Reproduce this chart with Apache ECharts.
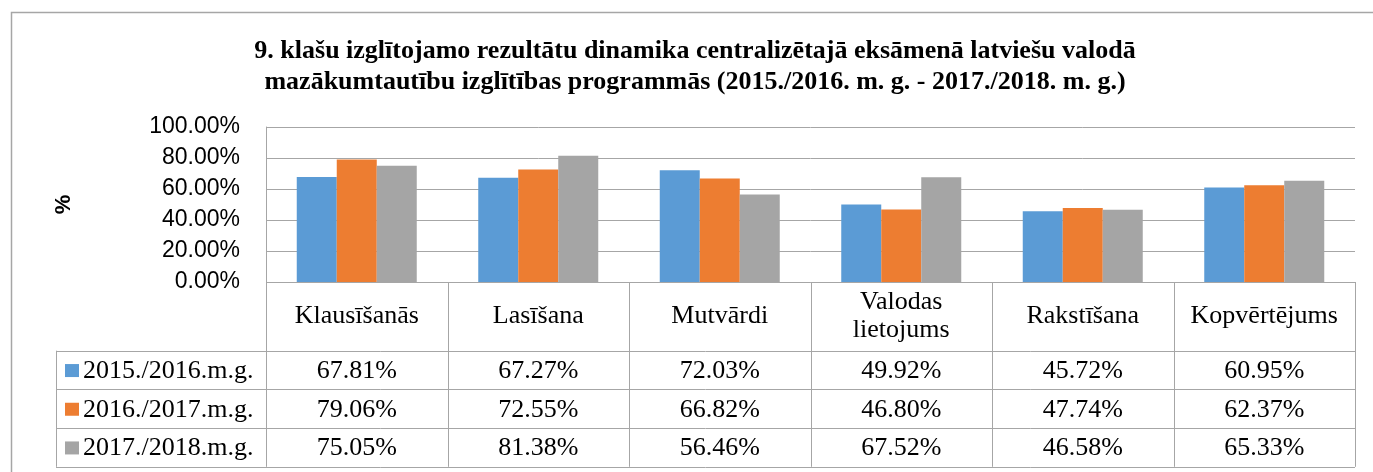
<!DOCTYPE html>
<html>
<head>
<meta charset="utf-8">
<script src="https://cdn.jsdelivr.net/npm/echarts@6/dist/echarts.min.js"></script>
<style>
  html, body { margin: 0; padding: 0; background: #fff; }
  #chart { width: 1373px; height: 472px; }
</style>
</head>
<body>
<div id="chart"></div>
<script>
// dati
var categories = ['Klausīšanās', 'Lasīšana', 'Mutvārdi', 'Valodas\nlietojums', 'Rakstīšana', 'Kopvērtējums']
var seriesNames = ['2015./2016.m.g.', '2016./2017.m.g.', '2017./2018.m.g.']
var y2016 = [67.81, 67.27, 72.03, 49.92, 45.72, 60.95]
var y2017 = [79.06, 72.55, 66.82, 46.80, 47.74, 62.37]
var y2018 = [75.05, 81.38, 56.46, 67.52, 46.58, 65.33]
var yTicks = [0, 20, 40, 60, 80, 100]

var colors = ['#5B9BD5', '#ED7D31', '#A5A5A5']
var lineColor = '#A6A6A6'

// izkārtojums
var gLeft = 266, gTop = 127, gWidth = 1089, gHeight = 155
var rowH = 38.7, catRowH = 68.7, legLeft = 56
var colW = gWidth / categories.length
var tableFont = '26px "Liberation Serif"'

var allData = [y2016, y2017, y2018]

function buildTable () {
  var els = []
  var tableTop = gTop + gHeight
  var rowsTop = tableTop + catRowH
  var bottom = rowsTop + rowH * 3
  var lineStyle = { stroke: lineColor, lineWidth: 1 }

  // horizontālās līnijas
  els.push({ type: 'line', shape: { x1: gLeft, y1: tableTop + 0.5, x2: gLeft + gWidth, y2: tableTop + 0.5 }, style: lineStyle })
  for (var r = 0; r <= 3; r++) {
    var y = Math.round(rowsTop + r * rowH) + 0.5
    els.push({ type: 'line', shape: { x1: legLeft, y1: y, x2: gLeft + gWidth, y2: y }, style: lineStyle })
  }
  // vertikālās līnijas
  for (var c = 0; c <= categories.length; c++) {
    var x = Math.round(gLeft + c * colW) + 0.5
    els.push({ type: 'line', shape: { x1: x, y1: tableTop, x2: x, y2: bottom }, style: lineStyle })
  }
  els.push({ type: 'line', shape: { x1: legLeft + 0.5, y1: rowsTop, x2: legLeft + 0.5, y2: bottom }, style: lineStyle })

  // leģenda un vērtības
  seriesNames.forEach(function (name, i) {
    var cy = rowsTop + i * rowH + rowH / 2 + 1
    els.push({ type: 'rect', shape: { x: 65, y: cy - 7, width: 14, height: 13 }, style: { fill: colors[i] } })
    els.push({
      type: 'text', x: 83, y: cy,
      style: { text: name, font: tableFont, fill: '#000', verticalAlign: 'middle', textAlign: 'left' }
    })
    allData[i].forEach(function (v, j) {
      els.push({
        type: 'text', x: gLeft + colW * (j + 0.5), y: cy,
        style: { text: v.toFixed(2) + '%', font: tableFont, fill: '#000', verticalAlign: 'middle', textAlign: 'center' }
      })
    })
  })

  // ārējais rāmis
  els.push({ type: 'rect', shape: { x: 11.5, y: 12.5, width: 1400, height: 500 }, style: { fill: 'none', stroke: '#A6A6A6', lineWidth: 1.5 } })
  return els
}

var option = {
  animation: false,
  title: {
    text: '9. klašu izglītojamo rezultātu dinamika centralizētajā eksāmenā latviešu valodā\nmazākumtautību izglītības programmās (2015./2016. m. g. - 2017./2018. m. g.)',
    left: 690,
    top: 31,
    textAlign: 'center',
    textStyle: { fontFamily: 'Liberation Serif', fontWeight: 'bold', fontSize: 26, lineHeight: 31, color: '#000' }
  },
  grid: { left: gLeft, top: gTop, width: gWidth, height: gHeight, containLabel: false },
  xAxis: {
    type: 'category',
    data: categories,
    axisLine: { show: false },
    axisTick: { show: false },
    axisLabel: {
      interval: 0,
      margin: 34,
      fontFamily: 'Liberation Serif',
      fontSize: 26,
      lineHeight: 28,
      color: '#000',
      verticalAlign: 'middle'
    }
  },
  yAxis: {
    type: 'value',
    min: 0,
    max: 100,
    interval: 20,
    name: '%',
    nameLocation: 'middle',
    nameGap: 191,
    nameRotate: 90,
    nameTextStyle: { fontFamily: 'Liberation Sans', fontWeight: 'bold', fontSize: 22, color: '#000' },
    axisLine: { show: true, lineStyle: { color: lineColor } },
    axisTick: { show: false },
    splitLine: { lineStyle: { color: lineColor, width: 1 } },
    axisLabel: {
      margin: 26,
      fontFamily: 'Liberation Sans',
      fontSize: 23,
      color: '#000',
      formatter: function (v) { return yTicks.indexOf(v) >= 0 ? v.toFixed(2) + '%' : '' }
    }
  },
  series: seriesNames.map(function (name, i) {
    return {
      name: name,
      type: 'bar',
      data: allData[i],
      barWidth: 40,
      barGap: '0%',
      itemStyle: { color: colors[i] }
    }
  }),
  graphic: buildTable()
}

var myChart = echarts.init(document.getElementById('chart'))
myChart.setOption(option)
</script>
</body>
</html>
